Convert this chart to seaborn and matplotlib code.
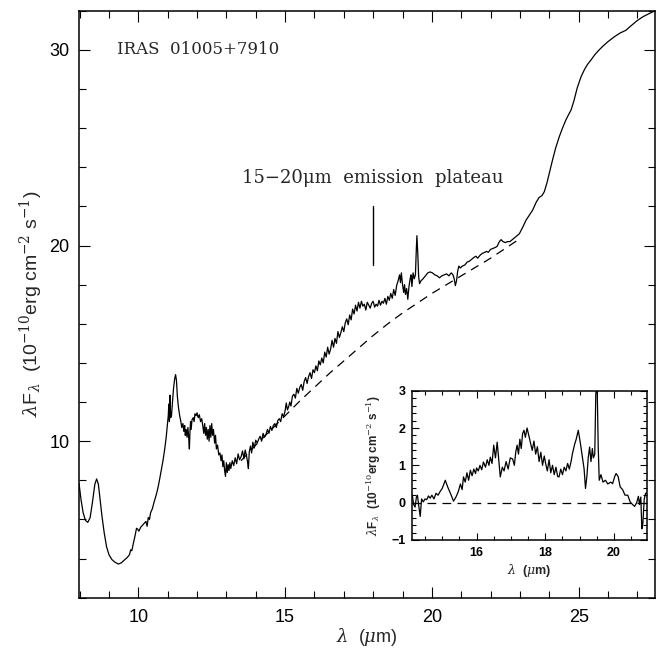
import matplotlib
matplotlib.use('Agg')
import matplotlib.pyplot as plt
import seaborn as sns
from matplotlib.ticker import MultipleLocator

# ISO spectrum of IRAS 01005+7910
wave = [
    7.98, 8.05, 8.12, 8.2, 8.28, 8.36, 8.44, 8.52, 8.58, 8.64, 8.7, 8.76, 8.84, 8.92, 9.0, 9.1, 9.2, 9.32,
    9.42, 9.52, 9.62, 9.7, 9.74, 9.78, 9.82, 9.88, 9.94, 9.98, 10.02, 10.08, 10.14, 10.2, 10.26, 10.3,
    10.34, 10.38, 10.42, 10.48, 10.54, 10.6, 10.66, 10.72, 10.78, 10.84, 10.9, 10.95, 10.99,
    11.02, 11.04, 11.06, 11.08, 11.1, 11.13, 11.16, 11.2, 11.24, 11.27, 11.3, 11.33, 11.37, 11.41, 11.45,
    11.48, 11.52, 11.55, 11.58, 11.6, 11.63, 11.66, 11.69, 11.72, 11.74, 11.76, 11.78, 11.8, 11.83, 11.87,
    11.9, 11.93, 11.97, 12.0, 12.04, 12.08, 12.12, 12.16, 12.2, 12.23, 12.26, 12.29, 12.32, 12.35, 12.38,
    12.41, 12.44, 12.47, 12.5, 12.53, 12.56, 12.6, 12.63, 12.66, 12.7, 12.74, 12.78, 12.82, 12.85, 12.88,
    12.91, 12.94, 12.97, 13.0, 13.03, 13.06, 13.09, 13.12,
    13.15, 13.2, 13.25, 13.3, 13.35, 13.4, 13.45, 13.5, 13.55, 13.6, 13.64, 13.68, 13.72, 13.75, 13.78,
    13.82, 13.86, 13.9, 13.95, 14.0, 14.05, 14.1, 14.15, 14.2, 14.25, 14.3, 14.35, 14.4, 14.45, 14.5,
    14.55, 14.6, 14.65, 14.7, 14.75, 14.8, 14.85, 14.9, 14.95, 15.0, 15.04, 15.08, 15.12, 15.16, 15.2,
    15.25, 15.3, 15.35, 15.4, 15.45, 15.5, 15.55, 15.6, 15.65, 15.7, 15.75, 15.8, 15.85, 15.9, 15.95,
    16.0, 16.05, 16.1, 16.15, 16.2, 16.25, 16.3, 16.35, 16.4, 16.45, 16.5, 16.55, 16.6, 16.65, 16.7,
    16.75, 16.8, 16.85, 16.9, 16.95, 17.0, 17.05, 17.1, 17.15, 17.2, 17.25, 17.3, 17.35, 17.4, 17.45, 17.5,
    17.55, 17.6, 17.65, 17.7, 17.75, 17.8, 17.85, 17.9, 17.95, 18.0, 18.05, 18.1, 18.15, 18.2, 18.25,
    18.3, 18.35, 18.4, 18.45, 18.5, 18.55, 18.6, 18.65, 18.7, 18.75, 18.8, 18.85, 18.9, 18.93, 18.96,
    19.0, 19.04, 19.07, 19.1, 19.14, 19.18, 19.22, 19.26, 19.29, 19.32, 19.36, 19.4, 19.44, 19.47, 19.49,
    19.52, 19.55, 19.58, 19.63, 19.7, 19.78, 19.86, 19.94, 20.02, 20.1, 20.18, 20.26, 20.34, 20.42, 20.5,
    20.58, 20.66, 20.72, 20.76, 20.8, 20.84, 20.88, 20.92, 20.97, 21.04, 21.12, 21.2, 21.28, 21.36, 21.44,
    21.5, 21.56, 21.64, 21.72, 21.8, 21.86, 21.92, 22.0, 22.08, 22.16, 22.22, 22.3, 22.36, 22.42, 22.5,
    22.58, 22.66, 22.74, 22.82, 22.9, 22.98,
    23.1, 23.21, 23.32, 23.43, 23.55, 23.65, 23.75, 23.83, 23.92, 24.0, 24.11, 24.22, 24.34, 24.45, 24.56,
    24.66, 24.74, 24.84, 24.95, 25.08, 25.2, 25.3, 25.42, 25.55, 25.7, 25.85, 26.0, 26.2, 26.4, 26.61,
    26.8, 27.0, 27.2, 27.41, 27.6,
]
flux = [
    7.85, 7.0, 6.35, 5.95, 5.85, 6.1, 6.9, 7.8, 8.07, 7.8, 7.0, 6.2, 5.3, 4.6, 4.2, 3.95, 3.82, 3.72,
    3.78, 3.92, 4.05, 4.2, 4.45, 4.4, 4.7, 5.1, 5.55, 5.5, 5.4, 5.6, 5.7, 5.8, 5.9, 5.65,
    6.1, 6.0, 6.35, 6.55, 6.9, 7.2, 7.55, 8.0, 8.5, 9.0, 9.6, 10.2, 10.8,
    11.3, 11.9, 11.0, 12.35, 11.2, 11.3, 11.9, 12.7, 13.2, 13.4, 13.1, 12.3, 11.7, 11.3, 11.0,
    10.7, 10.9, 10.5, 10.8, 10.3, 10.6, 10.2, 10.7, 10.1, 9.6, 10.5, 11.0, 10.6, 11.1, 11.2,
    11.0, 11.4, 11.3, 11.45, 11.2, 11.35, 11.0, 11.15, 10.75, 10.4, 10.9, 10.3, 10.7, 10.1, 10.6,
    10.0, 10.8, 10.2, 10.9, 10.3, 10.6, 9.9, 10.3, 9.6, 9.8, 9.3, 9.4, 9.0, 9.3, 8.7,
    9.0, 8.5, 8.2, 8.9, 8.4, 8.8, 8.5, 8.9,
    8.6, 9.0, 8.75, 9.15, 8.85, 9.35, 9.05, 9.2, 9.5, 9.1, 9.55, 9.3, 8.95, 8.6, 9.45,
    9.75, 9.4, 9.95, 9.65, 10.05, 9.9, 10.1, 10.25, 10.0, 10.4, 10.2, 10.35, 10.6, 10.4, 10.75,
    10.55, 10.8, 10.9, 10.7, 11.05, 11.15, 11.0, 11.4, 11.25, 11.55, 11.95, 11.6, 11.75, 12.0, 11.8,
    12.3, 12.4, 12.2, 12.7, 12.45, 12.75, 12.9, 12.6, 13.05, 13.25, 12.95, 13.3, 13.5, 13.2, 13.65,
    13.5, 13.85, 13.6, 14.1, 13.9, 14.25, 14.0, 14.55, 14.3, 14.8, 14.45, 14.7, 15.15, 14.8, 15.25,
    15.0, 15.6, 15.3, 15.55, 15.85, 15.6, 16.05, 16.25, 15.95, 16.45, 16.2, 16.75, 16.5, 16.95, 16.65, 17.1,
    16.8, 17.15, 16.9, 17.0, 16.7, 17.1, 16.95, 16.8, 17.05, 17.15, 16.85, 17.0, 16.9, 17.2, 16.95,
    17.15, 17.05, 17.3, 17.0, 17.4, 17.2, 17.55, 17.3, 17.75, 17.45, 17.95, 18.2, 18.5, 18.1, 18.6,
    18.0, 17.6, 18.0, 17.5, 17.8, 17.25, 17.9, 18.3, 18.5, 17.9, 18.6, 18.3, 18.5, 19.8, 20.5,
    19.6, 18.4, 18.05, 18.2, 18.3, 18.45, 18.6, 18.65, 18.6, 18.5, 18.45, 18.35, 18.45, 18.5, 18.55,
    18.45, 18.6, 18.5, 18.3, 17.95, 18.2, 18.7, 18.95, 18.85, 18.95, 19.0, 19.15, 19.2, 19.3, 19.4,
    19.45, 19.35, 19.5, 19.6, 19.65, 19.7, 19.65, 19.8, 19.85, 19.9, 19.95, 20.2, 20.3, 20.2, 20.15,
    20.2, 20.2, 20.3, 20.4, 20.5, 20.6,
    20.95, 21.3, 21.55, 21.8, 22.2, 22.45, 22.55, 22.75, 23.2, 23.7, 24.37, 25.0, 25.56, 26.0, 26.4,
    26.7, 26.92, 27.4, 28.05, 28.62, 29.0, 29.25, 29.48, 29.75, 30.0, 30.22, 30.42, 30.65, 30.85, 31.0,
    31.25, 31.5, 31.7, 31.86, 32.0,
]

# adopted continuum (dashed)
cont_wave = [13.5, 14.0, 14.5, 15.0, 15.5, 16.0, 16.5, 17.0, 17.5, 18.0, 18.5, 19.0, 19.5, 20.0,
             20.5, 21.0, 21.5, 22.0, 22.5, 23.0]
cont_flux = [9.0, 9.8, 10.55, 11.3, 12.05, 12.75, 13.45, 14.1, 14.75, 15.4, 16.0, 16.55, 17.05, 17.55,
             18.0, 18.45, 18.9, 19.35, 19.85, 20.35]

# continuum subtracted plateau (inset)
ins_wave = [14.13, 14.17, 14.21, 14.25, 14.28, 14.32, 14.36, 14.4, 14.45, 14.5, 14.55, 14.6, 14.65, 14.7,
            14.76, 14.82, 14.88, 14.94, 15.0, 15.09, 15.16, 15.24, 15.33, 15.4, 15.47, 15.53, 15.58, 15.62,
            15.67, 15.72, 15.77, 15.82, 15.87, 15.92, 15.97, 16.0, 16.05, 16.1, 16.15, 16.2, 16.26, 16.31,
            16.36, 16.4, 16.45, 16.5, 16.55, 16.6, 16.69, 16.75, 16.8, 16.86, 16.92, 16.98, 17.05, 17.1,
            17.14, 17.18, 17.22, 17.26, 17.3, 17.34, 17.38, 17.42, 17.47, 17.52, 17.57, 17.62, 17.67, 17.72,
            17.77, 17.82, 17.87, 17.92, 17.97, 18.01, 18.06, 18.11, 18.16, 18.21, 18.26, 18.31, 18.36, 18.4,
            18.45, 18.5, 18.55, 18.6, 18.65, 18.7, 18.75, 18.79, 18.85, 18.9, 18.96, 19.02, 19.08, 19.13,
            19.17, 19.21, 19.25, 19.29, 19.33, 19.37, 19.4, 19.44, 19.47, 19.5, 19.51, 19.54, 19.57, 19.62,
            19.68, 19.75, 19.82, 19.9, 19.96, 20.02, 20.06, 20.12, 20.18, 20.25, 20.32, 20.4, 20.47, 20.54,
            20.6, 20.66, 20.71, 20.74, 20.78, 20.81, 20.84, 20.88, 20.92, 20.96]
ins_resid = [0.2, -0.05, -0.12, 0.15, 0.2, -0.1, -0.37, 0.1, 0.02, 0.1, 0.08, 0.18, 0.12, 0.2,
             0.1, 0.25, 0.2, 0.3, 0.38, 0.6, 0.42, 0.25, 0.04, 0.15, 0.3, 0.5, 0.35, 0.69,
             0.55, 0.8, 0.6, 0.87, 0.72, 0.9, 0.78, 0.93, 0.85, 1.0, 0.88, 1.09, 0.95, 1.15,
             1.0, 1.22, 1.05, 1.54, 1.2, 1.62, 0.69, 0.95, 0.85, 1.1, 0.9, 1.2, 1.17, 1.0,
             1.35, 1.54, 1.3, 1.7, 1.45, 1.85, 1.94, 1.75, 2.0, 1.8, 1.6, 1.4, 1.65, 1.3,
             1.5, 1.1, 1.35, 1.0, 1.25, 1.05, 0.85, 1.15, 0.8, 1.0, 0.75, 0.95, 0.7, 0.69,
             0.9, 0.75, 0.95, 0.85, 1.05, 0.9, 1.1, 1.31, 1.55, 1.7, 1.94, 1.6, 1.22, 0.9,
             0.38, 0.7, 1.2, 1.49, 1.1, 1.45, 1.2, 1.3, 2.92, 3.1, 3.1, 1.5, 0.6, 0.75,
             0.55, 0.6, 0.5, 0.55, 0.51, 0.7, 0.78, 0.7, 0.42, 0.35, 0.2, 0.2, 0.02, -0.05,
             -0.1, 0.0, 0.17, -0.05, 0.15, -0.7, -0.55, 0.1, 0.25, 0.25]

sns.set_theme(style='ticks')
plt.rcParams['font.family'] = ['Liberation Sans', 'DejaVu Sans']
plt.rcParams['mathtext.fontset'] = 'dejavuserif'
plt.rcParams['axes.linewidth'] = 1.1


def style_axes(ax, xmaj, xmin, ymaj, ymin, major_len, minor_len, labelsize):
    ax.xaxis.set_major_locator(MultipleLocator(xmaj))
    ax.xaxis.set_minor_locator(MultipleLocator(xmin))
    ax.yaxis.set_major_locator(MultipleLocator(ymaj))
    ax.yaxis.set_minor_locator(MultipleLocator(ymin))
    ax.tick_params(which='both', direction='in', top=True, right=True, color='black',
                   labelcolor='black', width=0.8, labelsize=labelsize)
    ax.tick_params(which='major', length=major_len)
    ax.tick_params(which='minor', length=minor_len)
    for s in ax.spines.values():
        s.set_visible(True)
        s.set_color('black')


fig = plt.figure(figsize=(6.6, 6.48), dpi=100)
ax = fig.add_axes([0.1197, 0.0776, 0.8727, 0.9059])
sns.lineplot(x=wave, y=flux, ax=ax, color='black', lw=0.9, estimator=None, sort=False)
sns.lineplot(x=cont_wave, y=cont_flux, ax=ax, color='black', lw=0.9, estimator=None,
             linestyle=(0, (7, 5)))
ax.set_xlim(7.98, 27.6)
ax.set_ylim(2, 32)
style_axes(ax, 5, 1, 10, 2, 8, 5, 13)
ax.tick_params(axis='x', pad=8)
ax.tick_params(axis='y', pad=7)
ax.set_xlabel(r'$\lambda$  ($\mu$m)', fontsize=13, labelpad=0)
ax.set_ylabel(r'$\lambda$F$_\lambda$  (10$^{-10}$erg cm$^{-2}$ s$^{-1}$)', fontsize=14, labelpad=3)

ax.text(9.26, 30, 'IRAS  01005+7910', va='center', ha='left', fontsize=12,
        family=['DejaVu Serif'])
ax.text(13.54, 23.46, '15\u221220\u03bcm  emission  plateau', va='center', ha='left', fontsize=13,
        family=['DejaVu Serif'])
ax.plot([18, 18], [19, 22], color='black', lw=1)

axin = fig.add_axes([0.6247, 0.1667, 0.3556, 0.2304])
sns.lineplot(x=ins_wave, y=ins_resid, ax=axin, color='black', lw=0.9, estimator=None, sort=False)
axin.axhline(0, color='black', lw=0.9, linestyle=(0, (7, 5)))
axin.set_xlim(14.13, 20.96)
axin.set_ylim(-1, 3)
style_axes(axin, 2, 0.5, 1, 0.2, 5, 3, 9)
axin.tick_params(pad=5)
for lab in axin.get_xticklabels() + axin.get_yticklabels():
    lab.set_fontweight('bold')
axin.set_xlabel(r'$\lambda$  ($\mu$m)', fontsize=9, labelpad=2, fontweight='bold')
axin.set_ylabel(r'$\lambda$F$_\lambda$  (10$^{-10}$erg cm$^{-2}$ s$^{-1}$)', fontsize=8.5,
                labelpad=6, fontweight='bold')

fig.savefig('out.png', dpi=100)
